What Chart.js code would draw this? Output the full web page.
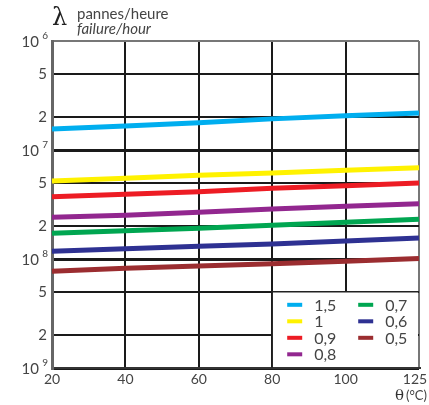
<!DOCTYPE html>
<html>
<head>
<meta charset="utf-8">
<script src="https://cdn.jsdelivr.net/npm/chart.js@4.4.1/dist/chart.umd.min.js"></script>
<style>
  body { margin: 0; background: #fff; }
  canvas { display: block; }
</style>
</head>
<body>
<canvas id="rateChart" width="429" height="405"></canvas>
<script>
// temperature ticks (equally spaced on the original drawing)
var xLabels = ['20', '40', '60', '80', '100', '125'];

// failure rate per stress ratio
var seriesNames = ['1,5', '1', '0,9', '0,8', '0,7', '0,6', '0,5'];
var seriesColors = ['#00aeef', '#fff200', '#ed1c24', '#92278f', '#00a651', '#2e3192', '#9b2d30'];
var rate15 = [1.56e-7, 1.66e-7, 1.78e-7, 1.93e-7, 2.06e-7, 2.18e-7];
var rate10 = [5.20e-8, 5.50e-8, 5.86e-8, 6.15e-8, 6.51e-8, 6.88e-8];
var rate09 = [3.73e-8, 3.93e-8, 4.14e-8, 4.45e-8, 4.70e-8, 4.98e-8];
var rate08 = [2.41e-8, 2.52e-8, 2.68e-8, 2.88e-8, 3.04e-8, 3.22e-8];
var rate07 = [1.72e-8, 1.82e-8, 1.91e-8, 2.04e-8, 2.17e-8, 2.31e-8];
var rate06 = [1.18e-8, 1.24e-8, 1.31e-8, 1.37e-8, 1.46e-8, 1.56e-8];
var rate05 = [7.71e-9, 8.22e-9, 8.63e-9, 9.06e-9, 9.53e-9, 1.01e-8];

// y axis ticks and labels ("10 9" = base + exponent)
var yTickValues = [1e-9, 2e-9, 5e-9, 1e-8, 2e-8, 5e-8, 1e-7, 2e-7, 5e-7, 1e-6];
var yTickLabels = ['10 9', '2', '5', '10 8', '2', '5', '10 7', '2', '5', '10 6'];

var textColor = '#444';
var fontName = 'Lato, "Open Sans", sans-serif';

function isDecade(v) {
    var e = Math.log10(v);
    return Math.abs(e - Math.round(e)) < 1e-6;
}

var allRates = [rate15, rate10, rate09, rate08, rate07, rate06, rate05];
var datasets = allRates.map(function(r, i) {
    return {
        label: seriesNames[i],
        data: r,
        borderColor: seriesColors[i],
        backgroundColor: seriesColors[i],
        borderWidth: 5,
        pointRadius: 0,
        fill: false,
        tension: 0
    };
});

// tick labels, titles and the boxed legend
var decorPlugin = {
    id: 'decor',
    afterDraw: function(chart) {
        var c = chart.ctx;
        var y = chart.scales.y;
        var x = chart.scales.x;
        var area = chart.chartArea;
        c.save();

        // y tick labels with raised exponent
        c.fillStyle = textColor;
        c.textBaseline = 'middle';
        for (var i = 0; i < yTickValues.length; i++) {
            var py = y.getPixelForValue(yTickValues[i]);
            var parts = yTickLabels[i].split(' ');
            if (parts.length > 1) {
                c.font = '10px ' + fontName;
                c.textAlign = 'right';
                c.fillText(parts[1], 48, py - 5);
                c.font = '15px ' + fontName;
                c.fillText(parts[0], 39, py + 1);
            } else {
                c.font = '15px ' + fontName;
                c.textAlign = 'right';
                c.fillText(parts[0], 47, py);
            }
        }

        // x tick labels (last one pulled in a little, as on the original)
        c.font = '14px ' + fontName;
        c.textAlign = 'center';
        c.textBaseline = 'middle';
        for (var j = 0; j < xLabels.length; j++) {
            var px = x.getPixelForValue(j);
            if (j === xLabels.length - 1) px -= 4;
            c.fillText(xLabels[j], px, area.bottom + 11);
        }

        // axis title (top)
        c.textAlign = 'left';
        c.textBaseline = 'alphabetic';
        c.fillStyle = '#222';
        c.font = '24px "DejaVu Serif", serif';
        c.fillText('λ', 52, 25);
        c.fillStyle = textColor;
        c.font = '15px ' + fontName;
        c.fillText('pannes/heure', 77, 19);
        c.font = 'italic 15px ' + fontName;
        c.fillText('failure/hour', 77, 34);

        // x title
        c.font = '15px "DejaVu Serif", serif';
        c.fillStyle = '#333';
        c.fillText('θ', 395, 400);
        c.font = '13px ' + fontName;
        c.fillStyle = textColor;
        c.fillText('(°C)', 406, 400);

        // legend box over the lower right cells
        var lx = x.getPixelForValue(3);
        var ly = y.getPixelForValue(5e-9);
        var rx = area.right;
        var by = area.bottom;
        c.fillStyle = '#fff';
        c.fillRect(lx, ly, rx - lx - 1, by - ly - 1);
        c.strokeStyle = '#222';
        c.lineWidth = 1.5;
        c.beginPath();
        c.moveTo(lx, by);
        c.lineTo(lx, ly);
        c.lineTo(rx, ly);
        c.stroke();

        c.font = '16px ' + fontName;
        c.textBaseline = 'middle';
        for (var k = 0; k < seriesNames.length; k++) {
            var col = Math.floor(k / 4);
            var row = k % 4;
            var sx = lx + 15 + col * 71;
            var sy = ly + 13 + row * 16.5;
            c.fillStyle = seriesColors[k];
            c.fillRect(sx, sy - 2, 15, 4);
            c.fillStyle = textColor;
            c.fillText(seriesNames[k], sx + 27, sy + 1);
        }
        c.restore();
    }
};

var rateChart = new Chart(document.getElementById('rateChart').getContext('2d'), {
    type: 'line',
    data: {
        labels: xLabels,
        datasets: datasets
    },
    options: {
        responsive: false,
        animation: false,
        layout: { padding: { top: 41, right: 10, left: 0, bottom: 0 } },
        plugins: {
            legend: { display: false },
            tooltip: { enabled: false }
        },
        scales: {
            x: {
                type: 'category',
                offset: false,
                afterFit: function(scale) {
                    scale.height = 37;
                    scale.paddingLeft = 0;
                    scale.paddingRight = 0;
                },
                grid: {
                    drawTicks: false,
                    color: function(ctx) {
                        if (ctx.index === 0) return '#666';
                        if (ctx.index === xLabels.length - 1) return '#777';
                        return '#1a1a1a';
                    },
                    lineWidth: function(ctx) {
                        return ctx.index === 0 ? 3 : 2;
                    }
                },
                border: { color: '#333', width: 2 },
                ticks: { display: false }
            },
            y: {
                type: 'logarithmic',
                min: 1e-9,
                max: 1e-6,
                afterFit: function(scale) {
                    scale.width = 52;
                    scale.paddingTop = 0;
                    scale.paddingBottom = 0;
                },
                afterBuildTicks: function(scale) {
                    scale.ticks = yTickValues.map(function(v) { return { value: v }; });
                },
                grid: {
                    drawTicks: false,
                    color: function(ctx) {
                        var v = ctx.tick.value;
                        if (v >= 1e-6) return '#777';
                        return '#1a1a1a';
                    },
                    lineWidth: function(ctx) {
                        var v = ctx.tick.value;
                        if (v >= 1e-6) return 2;
                        return isDecade(v) ? 3 : 2;
                    }
                },
                border: { color: '#666', width: 3 },
                ticks: { display: false }
            }
        }
    },
    plugins: [decorPlugin]
});
</script>
</body>
</html>
